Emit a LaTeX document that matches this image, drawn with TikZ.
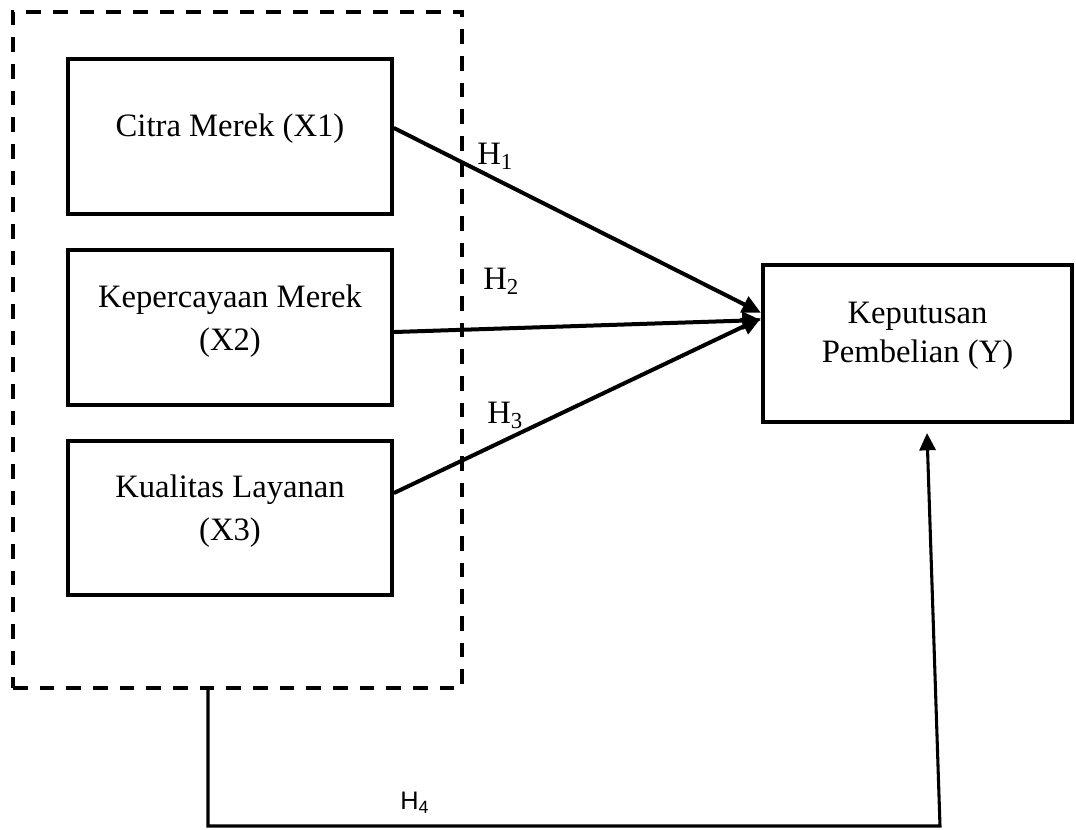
\documentclass[tikz,border=0pt]{standalone}
\usepackage{fontspec}
\setmainfont{Liberation Serif}
\newfontfamily\hfont{Liberation Sans}
\usetikzlibrary{positioning,arrows.meta,calc}

\begin{document}
\begin{tikzpicture}[x=0.75pt,y=-0.75pt,
      varbox/.style={draw,line width=2.8pt,minimum width=243pt,minimum height=116pt},
      vartxt/.style={align=center,font=\fontsize{24.5}{32}\selectfont},
      hyp/.style={anchor=base west,inner sep=0pt,font=\fontsize{24.5}{28}\selectfont},
      arr/.style={line width=3pt,-{Triangle[length=14pt,width=13pt]}}]
    \useasboundingbox (0,0) rectangle (1076,830);
    % variabel bebas
    \node[draw,dashed,line width=3pt,dash pattern=on 11pt off 9pt,
          minimum width=337pt,minimum height=507pt] (grp) at (237.5,350) {};
    \node[varbox] (x1) at (230,136.5) {};
    \node[varbox] (x2) at (230,327.5) {};
    \node[varbox] (x3) at (230,518) {};
    \node[vartxt] (t1) at ([yshift=6pt]x1.center) {Citra Merek (X1)};
    \node[vartxt] (t2) at ([yshift=5pt]x2.center) {Kepercayaan Merek\\(X2)};
    \node[vartxt] (t3) at ([yshift=5pt]x3.center) {Kualitas Layanan\\(X3)};
    % variabel terikat
    \node[varbox,minimum width=232pt,minimum height=118pt] (kep) at (917.5,343.5) {};
    \node[vartxt,font=\fontsize{24.5}{29}\selectfont] (ty) at ([yshift=6pt]kep.center)
      {Keputusan\\Pembelian (Y)};
    % hipotesis parsial
    \draw[arr] ([yshift=6.4pt]x1.east) -- ([yshift=23pt]kep.west);
    \draw[arr] ([yshift=-3.4pt]x2.east) -- ([yshift=17.6pt]kep.west);
    \draw[arr] ([yshift=18.7pt]x3.east) -- ([yshift=19pt]kep.west);
    \node[hyp] (h1) at (477,165) {H\textsubscript{1}};
    \node[hyp] (h2) at (483,290) {H\textsubscript{2}};
    \node[hyp] (h3) at (487,424) {H\textsubscript{3}};
    % hipotesis simultan
    \coordinate (h4a) at (208,826);
    \coordinate (h4b) at (940,826);
    \coordinate (h4c) at (927,433);
    \draw[line width=2.3pt,-{Triangle[length=13pt,width=12pt]}]
      (grp.south -| h4a) -- (h4a) -- (h4b) -- (h4c);
    \node[anchor=base west,inner sep=0pt,font=\hfont\fontsize{19}{21}\selectfont] (h4)
      at (400,809) {H\textsubscript{4}};
\end{tikzpicture}
\end{document}
